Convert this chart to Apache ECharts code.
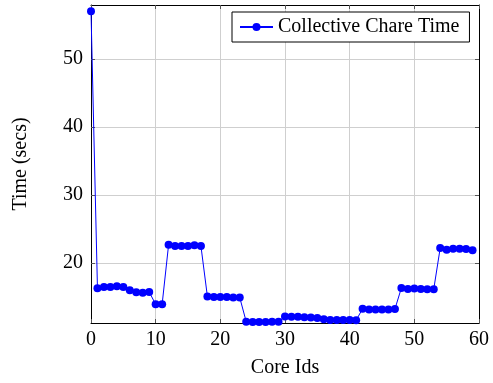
<!DOCTYPE html>
<html>
<head>
<meta charset="utf-8">
<script src="https://cdn.jsdelivr.net/npm/echarts@6/dist/echarts.min.js"></script>
<style>
html,body{margin:0;padding:0;background:#fff;}
#chart{width:493px;height:383px;}
</style>
</head>
<body>
<div id="chart"></div>
<script>
const seriesName = 'Collective Chare Time';
const coreIds = [0,1,2,3,4,5,6,7,8,9,10,11,12,13,14,15,16,17,18,19,20,21,22,23,24,25,26,27,28,29,30,31,32,33,34,35,36,37,38,39,40,41,42,43,44,45,46,47,48,49,50,51,52,53,54,55,56,57,58,59];
const timeSecs = [57.0,16.3,16.5,16.5,16.6,16.5,16.0,15.7,15.65,15.75,13.95,13.95,22.7,22.5,22.5,22.5,22.6,22.5,15.1,15.0,15.0,15.0,14.95,14.95,11.4,11.35,11.35,11.35,11.4,11.4,12.15,12.1,12.1,12.05,12.0,11.95,11.75,11.65,11.65,11.65,11.65,11.6,13.3,13.2,13.2,13.2,13.2,13.25,16.35,16.2,16.25,16.2,16.15,16.15,22.2,21.95,22.1,22.1,22.05,21.9];
const xTicks = [0,10,20,30,40,50,60];
const yTicks = [20,30,40,50];

const FONT = 'Liberation Serif';
const chart = echarts.init(document.getElementById('chart'), null, {renderer:'canvas'});
const tickStyle = {show:true, inside:true, length:4, lineStyle:{color:'#555', width:1}};
chart.setOption({
  animation:false,
  backgroundColor:'#fff',
  grid:{left:91, right:14, top:5, bottom:57, containLabel:false},
  legend:{
    data:[seriesName],
    left:232, top:12,
    padding:[5,10,5,7],
    itemWidth:33, itemHeight:10, itemGap:5,
    borderColor:'#000', borderWidth:1, borderRadius:0,
    backgroundColor:'#fff',
    textStyle:{fontFamily:FONT, fontSize:20, color:'#000'}
  },
  xAxis:[{
    type:'value', min:0, max:60, interval:10,
    name:'Core Ids', nameLocation:'middle', nameGap:35,
    nameTextStyle:{fontFamily:FONT, fontSize:20, color:'#000'},
    axisLine:{show:true, onZero:false, lineStyle:{color:'#000', width:1}},
    axisTick:tickStyle,
    axisLabel:{fontFamily:FONT, fontSize:20, color:'#000', margin:7},
    splitLine:{show:true, lineStyle:{color:'#cfcfcf', width:1}}
  },{
    type:'value', min:0, max:60, interval:10, position:'top',
    axisLine:{show:true, onZero:false, lineStyle:{color:'#000', width:1}},
    axisTick:tickStyle, axisLabel:{show:false}, splitLine:{show:false}
  }],
  yAxis:[{
    type:'value', min:11.2, max:57.9,
    name:'Time (secs)', nameLocation:'middle', nameGap:60, nameRotate:90,
    nameTextStyle:{fontFamily:FONT, fontSize:20, color:'#000'},
    axisLine:{show:true, onZero:false, lineStyle:{color:'#000', width:1}},
    axisTick:Object.assign({}, tickStyle, {customValues:yTicks}),
    axisLabel:{fontFamily:FONT, fontSize:20, color:'#000', margin:8, customValues:yTicks},
    splitLine:{show:true, lineStyle:{color:'#cfcfcf', width:1}}
  },{
    type:'value', min:11.2, max:57.9, position:'right',
    axisLine:{show:true, onZero:false, lineStyle:{color:'#000', width:1}},
    axisTick:Object.assign({}, tickStyle, {customValues:yTicks}),
    axisLabel:{show:false, customValues:yTicks}, splitLine:{show:false}
  }],
  series:[{
    name:seriesName, type:'line',
    xAxisIndex:0, yAxisIndex:0,
    data:coreIds.map((x,i)=>[x,timeSecs[i]]),
    symbol:'circle', symbolSize:8, showSymbol:true,
    lineStyle:{color:'#0000ff', width:1},
    itemStyle:{color:'#0000ff'}
  }]
});
</script>
</body>
</html>
